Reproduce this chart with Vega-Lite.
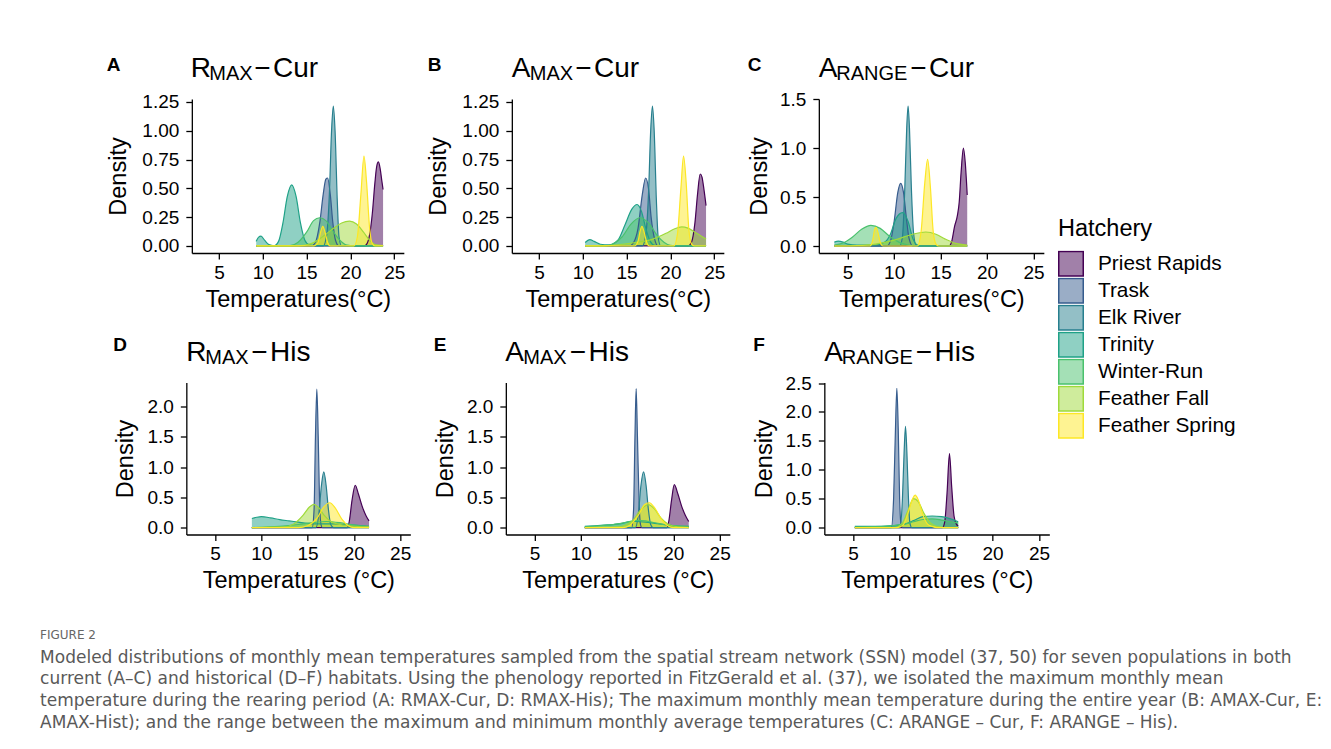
{
"$schema": "https://vega.github.io/schema/vega-lite/v6.json",
"background": "white",
"padding": {"left": 40, "top": 55, "right": 20, "bottom": 10},
"config": {
  "view": {"stroke": null},
  "axis": {"grid": false, "domainColor": "black", "domainWidth": 1.3, "tickColor": "black", "tickWidth": 1.3, "tickSize": 6, "labelFont": "Liberation Sans", "labelFontSize": 19, "labelColor": "black", "labelPadding": 4, "labelOverlap": false, "labelBound": false, "titleFont": "Liberation Sans", "titleFontSize": 23.5, "titleFontWeight": "normal", "titleColor": "black", "titlePadding": 5},
  "axisY": {"labelPadding": 7},
  "legend": {"titleFont": "Liberation Sans", "titleFontSize": 23.5, "titleFontWeight": "normal", "titleColor": "black", "labelFont": "Liberation Sans", "labelFontSize": 20.8, "labelColor": "black", "symbolType": "square", "symbolSize": 600, "symbolStrokeWidth": 1.5, "rowPadding": 0, "clipHeight": 26.7, "labelOffset": 14, "titlePadding": 10}
},
"title": {"text": "FIGURE 2", "subtitle": ["Modeled distributions of monthly mean temperatures sampled from the spatial stream network (SSN) model (37, 50) for seven populations in both", "current (A–C) and historical (D–F) habitats. Using the phenology reported in FitzGerald et al. (37), we isolated the maximum monthly mean", "temperature during the rearing period (A: RMAX-Cur, D: RMAX-His); The maximum monthly mean temperature during the entire year (B: AMAX-Cur, E:", "AMAX-Hist); and the range between the maximum and minimum monthly average temperatures (C: ARANGE – Cur, F: ARANGE – His)."], "orient": "bottom", "anchor": "start", "frame": "group", "dx": -145.9, "offset": 37.5, "font": "DejaVu Sans", "fontSize": 12, "fontWeight": "normal", "color": "#666666", "subtitleFont": "DejaVu Sans", "subtitleFontSize": 17, "subtitleColor": "#595959", "subtitleLineHeight": 21.8, "subtitlePadding": 8},
"datasets": {
"A": [
{"hatchery":"Priest Rapids","temp":9.25,"density":0},{"hatchery":"Priest Rapids","temp":21.6,"density":0},{"hatchery":"Priest Rapids","temp":21.9,"density":0.02},{"hatchery":"Priest Rapids","temp":22.2,"density":0.1},{"hatchery":"Priest Rapids","temp":22.5,"density":0.28},{"hatchery":"Priest Rapids","temp":22.8,"density":0.55},{"hatchery":"Priest Rapids","temp":23.0,"density":0.69},{"hatchery":"Priest Rapids","temp":23.2,"density":0.73},{"hatchery":"Priest Rapids","temp":23.4,"density":0.67},{"hatchery":"Priest Rapids","temp":23.6,"density":0.56},{"hatchery":"Priest Rapids","temp":23.73,"density":0.49},
{"hatchery":"Trask","temp":9.25,"density":0},{"hatchery":"Trask","temp":15.5,"density":0},{"hatchery":"Trask","temp":16.0,"density":0.03},{"hatchery":"Trask","temp":16.5,"density":0.2},{"hatchery":"Trask","temp":16.9,"density":0.45},{"hatchery":"Trask","temp":17.2,"density":0.58},{"hatchery":"Trask","temp":17.4,"density":0.59},{"hatchery":"Trask","temp":17.7,"density":0.45},{"hatchery":"Trask","temp":18.0,"density":0.2},{"hatchery":"Trask","temp":18.3,"density":0.05},{"hatchery":"Trask","temp":18.7,"density":0},{"hatchery":"Trask","temp":23.73,"density":0},
{"hatchery":"Elk River","temp":9.25,"density":0},{"hatchery":"Elk River","temp":16.9,"density":0},{"hatchery":"Elk River","temp":17.3,"density":0.1},{"hatchery":"Elk River","temp":17.6,"density":0.45},{"hatchery":"Elk River","temp":17.85,"density":1.0},{"hatchery":"Elk River","temp":18.05,"density":1.215},{"hatchery":"Elk River","temp":18.25,"density":1.0},{"hatchery":"Elk River","temp":18.5,"density":0.4},{"hatchery":"Elk River","temp":18.7,"density":0.08},{"hatchery":"Elk River","temp":19.0,"density":0},{"hatchery":"Elk River","temp":23.73,"density":0},
{"hatchery":"Trinity","temp":9.25,"density":0.04},{"hatchery":"Trinity","temp":9.5,"density":0.075},{"hatchery":"Trinity","temp":9.8,"density":0.085},{"hatchery":"Trinity","temp":10.2,"density":0.05},{"hatchery":"Trinity","temp":10.7,"density":0.012},{"hatchery":"Trinity","temp":11.3,"density":0.002},{"hatchery":"Trinity","temp":11.8,"density":0.04},{"hatchery":"Trinity","temp":12.3,"density":0.2},{"hatchery":"Trinity","temp":12.8,"density":0.43},{"hatchery":"Trinity","temp":13.3,"density":0.53},{"hatchery":"Trinity","temp":13.8,"density":0.43},{"hatchery":"Trinity","temp":14.3,"density":0.2},{"hatchery":"Trinity","temp":14.8,"density":0.05},{"hatchery":"Trinity","temp":15.3,"density":0.01},{"hatchery":"Trinity","temp":16.0,"density":0.003},{"hatchery":"Trinity","temp":23.73,"density":0},
{"hatchery":"Winter-Run","temp":9.25,"density":0},{"hatchery":"Winter-Run","temp":13.0,"density":0},{"hatchery":"Winter-Run","temp":14.0,"density":0.03},{"hatchery":"Winter-Run","temp":15.0,"density":0.12},{"hatchery":"Winter-Run","temp":15.8,"density":0.22},{"hatchery":"Winter-Run","temp":16.5,"density":0.245},{"hatchery":"Winter-Run","temp":17.2,"density":0.22},{"hatchery":"Winter-Run","temp":18.0,"density":0.13},{"hatchery":"Winter-Run","temp":18.8,"density":0.05},{"hatchery":"Winter-Run","temp":19.5,"density":0.01},{"hatchery":"Winter-Run","temp":20.5,"density":0},{"hatchery":"Winter-Run","temp":23.73,"density":0},
{"hatchery":"Feather Fall","temp":9.25,"density":0},{"hatchery":"Feather Fall","temp":14.0,"density":0},{"hatchery":"Feather Fall","temp":15.5,"density":0.02},{"hatchery":"Feather Fall","temp":17.0,"density":0.09},{"hatchery":"Feather Fall","temp":18.0,"density":0.15},{"hatchery":"Feather Fall","temp":19.0,"density":0.2},{"hatchery":"Feather Fall","temp":19.9,"density":0.215},{"hatchery":"Feather Fall","temp":20.7,"density":0.19},{"hatchery":"Feather Fall","temp":21.5,"density":0.12},{"hatchery":"Feather Fall","temp":22.2,"density":0.05},{"hatchery":"Feather Fall","temp":22.8,"density":0.012},{"hatchery":"Feather Fall","temp":23.73,"density":0.004},
{"hatchery":"Feather Spring","temp":9.25,"density":0},{"hatchery":"Feather Spring","temp":15.8,"density":0},{"hatchery":"Feather Spring","temp":16.3,"density":0.03},{"hatchery":"Feather Spring","temp":16.6,"density":0.12},{"hatchery":"Feather Spring","temp":16.85,"density":0.17},{"hatchery":"Feather Spring","temp":17.1,"density":0.12},{"hatchery":"Feather Spring","temp":17.4,"density":0.03},{"hatchery":"Feather Spring","temp":17.7,"density":0},{"hatchery":"Feather Spring","temp":20.4,"density":0},{"hatchery":"Feather Spring","temp":20.8,"density":0.08},{"hatchery":"Feather Spring","temp":21.2,"density":0.45},{"hatchery":"Feather Spring","temp":21.55,"density":0.78},{"hatchery":"Feather Spring","temp":21.85,"density":0.55},{"hatchery":"Feather Spring","temp":22.2,"density":0.15},{"hatchery":"Feather Spring","temp":22.5,"density":0.02},{"hatchery":"Feather Spring","temp":22.8,"density":0},{"hatchery":"Feather Spring","temp":23.73,"density":0}
],
"B": [
{"hatchery":"Priest Rapids","temp":10.27,"density":0},{"hatchery":"Priest Rapids","temp":22.0,"density":0},{"hatchery":"Priest Rapids","temp":22.4,"density":0.03},{"hatchery":"Priest Rapids","temp":22.8,"density":0.2},{"hatchery":"Priest Rapids","temp":23.1,"density":0.45},{"hatchery":"Priest Rapids","temp":23.4,"density":0.625},{"hatchery":"Priest Rapids","temp":23.6,"density":0.6},{"hatchery":"Priest Rapids","temp":23.85,"density":0.48},{"hatchery":"Priest Rapids","temp":24.07,"density":0.35},
{"hatchery":"Trask","temp":10.27,"density":0},{"hatchery":"Trask","temp":15.3,"density":0},{"hatchery":"Trask","temp":15.8,"density":0.03},{"hatchery":"Trask","temp":16.3,"density":0.15},{"hatchery":"Trask","temp":16.8,"density":0.45},{"hatchery":"Trask","temp":17.17,"density":0.59},{"hatchery":"Trask","temp":17.5,"density":0.5},{"hatchery":"Trask","temp":17.8,"density":0.25},{"hatchery":"Trask","temp":18.2,"density":0.06},{"hatchery":"Trask","temp":18.6,"density":0},{"hatchery":"Trask","temp":24.07,"density":0},
{"hatchery":"Elk River","temp":10.27,"density":0},{"hatchery":"Elk River","temp":16.8,"density":0},{"hatchery":"Elk River","temp":17.2,"density":0.1},{"hatchery":"Elk River","temp":17.5,"density":0.45},{"hatchery":"Elk River","temp":17.75,"density":1.0},{"hatchery":"Elk River","temp":17.95,"density":1.215},{"hatchery":"Elk River","temp":18.15,"density":1.0},{"hatchery":"Elk River","temp":18.4,"density":0.4},{"hatchery":"Elk River","temp":18.6,"density":0.08},{"hatchery":"Elk River","temp":18.9,"density":0},{"hatchery":"Elk River","temp":24.07,"density":0},
{"hatchery":"Trinity","temp":10.27,"density":0.03},{"hatchery":"Trinity","temp":10.8,"density":0.055},{"hatchery":"Trinity","temp":11.3,"density":0.04},{"hatchery":"Trinity","temp":12.0,"density":0.015},{"hatchery":"Trinity","temp":13.0,"density":0.01},{"hatchery":"Trinity","temp":14.0,"density":0.05},{"hatchery":"Trinity","temp":14.8,"density":0.18},{"hatchery":"Trinity","temp":15.6,"density":0.32},{"hatchery":"Trinity","temp":16.2,"density":0.36},{"hatchery":"Trinity","temp":16.7,"density":0.3},{"hatchery":"Trinity","temp":17.2,"density":0.15},{"hatchery":"Trinity","temp":17.7,"density":0.04},{"hatchery":"Trinity","temp":18.2,"density":0.005},{"hatchery":"Trinity","temp":19.0,"density":0},{"hatchery":"Trinity","temp":24.07,"density":0},
{"hatchery":"Winter-Run","temp":10.27,"density":0},{"hatchery":"Winter-Run","temp":12.5,"density":0},{"hatchery":"Winter-Run","temp":13.5,"density":0.02},{"hatchery":"Winter-Run","temp":14.5,"density":0.08},{"hatchery":"Winter-Run","temp":15.5,"density":0.19},{"hatchery":"Winter-Run","temp":16.5,"density":0.245},{"hatchery":"Winter-Run","temp":17.5,"density":0.2},{"hatchery":"Winter-Run","temp":18.5,"density":0.09},{"hatchery":"Winter-Run","temp":19.3,"density":0.03},{"hatchery":"Winter-Run","temp":20.0,"density":0.005},{"hatchery":"Winter-Run","temp":21.0,"density":0},{"hatchery":"Winter-Run","temp":24.07,"density":0},
{"hatchery":"Feather Fall","temp":10.27,"density":0},{"hatchery":"Feather Fall","temp":12.0,"density":0},{"hatchery":"Feather Fall","temp":14.0,"density":0.01},{"hatchery":"Feather Fall","temp":16.0,"density":0.03},{"hatchery":"Feather Fall","temp":18.0,"density":0.06},{"hatchery":"Feather Fall","temp":19.5,"density":0.11},{"hatchery":"Feather Fall","temp":20.5,"density":0.15},{"hatchery":"Feather Fall","temp":21.3,"density":0.165},{"hatchery":"Feather Fall","temp":22.0,"density":0.155},{"hatchery":"Feather Fall","temp":23.0,"density":0.11},{"hatchery":"Feather Fall","temp":24.07,"density":0.06},
{"hatchery":"Feather Spring","temp":10.27,"density":0},{"hatchery":"Feather Spring","temp":15.9,"density":0},{"hatchery":"Feather Spring","temp":16.3,"density":0.04},{"hatchery":"Feather Spring","temp":16.55,"density":0.13},{"hatchery":"Feather Spring","temp":16.75,"density":0.17},{"hatchery":"Feather Spring","temp":17.0,"density":0.12},{"hatchery":"Feather Spring","temp":17.3,"density":0.03},{"hatchery":"Feather Spring","temp":17.6,"density":0},{"hatchery":"Feather Spring","temp":20.4,"density":0},{"hatchery":"Feather Spring","temp":20.8,"density":0.1},{"hatchery":"Feather Spring","temp":21.2,"density":0.5},{"hatchery":"Feather Spring","temp":21.5,"density":0.78},{"hatchery":"Feather Spring","temp":21.8,"density":0.55},{"hatchery":"Feather Spring","temp":22.1,"density":0.15},{"hatchery":"Feather Spring","temp":22.4,"density":0.02},{"hatchery":"Feather Spring","temp":22.7,"density":0},{"hatchery":"Feather Spring","temp":24.07,"density":0}
],
"C": [
{"hatchery":"Priest Rapids","temp":3.57,"density":0},{"hatchery":"Priest Rapids","temp":15.9,"density":0},{"hatchery":"Priest Rapids","temp":16.2,"density":0.05},{"hatchery":"Priest Rapids","temp":16.5,"density":0.2},{"hatchery":"Priest Rapids","temp":16.8,"density":0.31},{"hatchery":"Priest Rapids","temp":17.0,"density":0.45},{"hatchery":"Priest Rapids","temp":17.2,"density":0.75},{"hatchery":"Priest Rapids","temp":17.45,"density":1.0},{"hatchery":"Priest Rapids","temp":17.65,"density":0.85},{"hatchery":"Priest Rapids","temp":17.86,"density":0.52},
{"hatchery":"Trask","temp":3.57,"density":0},{"hatchery":"Trask","temp":9.2,"density":0},{"hatchery":"Trask","temp":9.6,"density":0.05},{"hatchery":"Trask","temp":10.0,"density":0.25},{"hatchery":"Trask","temp":10.4,"density":0.55},{"hatchery":"Trask","temp":10.7,"density":0.64},{"hatchery":"Trask","temp":11.0,"density":0.55},{"hatchery":"Trask","temp":11.3,"density":0.3},{"hatchery":"Trask","temp":11.6,"density":0.08},{"hatchery":"Trask","temp":12.0,"density":0},{"hatchery":"Trask","temp":17.86,"density":0},
{"hatchery":"Elk River","temp":3.57,"density":0},{"hatchery":"Elk River","temp":10.6,"density":0},{"hatchery":"Elk River","temp":10.9,"density":0.1},{"hatchery":"Elk River","temp":11.15,"density":0.6},{"hatchery":"Elk River","temp":11.35,"density":1.2},{"hatchery":"Elk River","temp":11.5,"density":1.43},{"hatchery":"Elk River","temp":11.65,"density":1.2},{"hatchery":"Elk River","temp":11.85,"density":0.6},{"hatchery":"Elk River","temp":12.1,"density":0.12},{"hatchery":"Elk River","temp":12.4,"density":0},{"hatchery":"Elk River","temp":17.86,"density":0},
{"hatchery":"Trinity","temp":3.57,"density":0.04},{"hatchery":"Trinity","temp":4.0,"density":0.05},{"hatchery":"Trinity","temp":4.5,"density":0.04},{"hatchery":"Trinity","temp":5.0,"density":0.02},{"hatchery":"Trinity","temp":6.0,"density":0.01},{"hatchery":"Trinity","temp":8.0,"density":0.01},{"hatchery":"Trinity","temp":9.0,"density":0.04},{"hatchery":"Trinity","temp":9.6,"density":0.12},{"hatchery":"Trinity","temp":10.2,"density":0.28},{"hatchery":"Trinity","temp":10.9,"density":0.34},{"hatchery":"Trinity","temp":11.5,"density":0.25},{"hatchery":"Trinity","temp":12.0,"density":0.08},{"hatchery":"Trinity","temp":12.5,"density":0.01},{"hatchery":"Trinity","temp":13.0,"density":0},{"hatchery":"Trinity","temp":17.86,"density":0},
{"hatchery":"Winter-Run","temp":3.57,"density":0.01},{"hatchery":"Winter-Run","temp":4.5,"density":0.03},{"hatchery":"Winter-Run","temp":5.5,"density":0.09},{"hatchery":"Winter-Run","temp":6.5,"density":0.17},{"hatchery":"Winter-Run","temp":7.5,"density":0.21},{"hatchery":"Winter-Run","temp":8.5,"density":0.18},{"hatchery":"Winter-Run","temp":9.5,"density":0.1},{"hatchery":"Winter-Run","temp":10.5,"density":0.04},{"hatchery":"Winter-Run","temp":11.5,"density":0.01},{"hatchery":"Winter-Run","temp":12.5,"density":0},{"hatchery":"Winter-Run","temp":17.86,"density":0},
{"hatchery":"Feather Fall","temp":3.57,"density":0},{"hatchery":"Feather Fall","temp":6.0,"density":0.005},{"hatchery":"Feather Fall","temp":8.0,"density":0.02},{"hatchery":"Feather Fall","temp":10.0,"density":0.06},{"hatchery":"Feather Fall","temp":12.0,"density":0.12},{"hatchery":"Feather Fall","temp":13.4,"density":0.143},{"hatchery":"Feather Fall","temp":14.5,"density":0.12},{"hatchery":"Feather Fall","temp":15.5,"density":0.07},{"hatchery":"Feather Fall","temp":16.5,"density":0.03},{"hatchery":"Feather Fall","temp":17.86,"density":0.01},
{"hatchery":"Feather Spring","temp":3.57,"density":0},{"hatchery":"Feather Spring","temp":7.4,"density":0},{"hatchery":"Feather Spring","temp":7.7,"density":0.06},{"hatchery":"Feather Spring","temp":7.9,"density":0.17},{"hatchery":"Feather Spring","temp":8.05,"density":0.19},{"hatchery":"Feather Spring","temp":8.25,"density":0.14},{"hatchery":"Feather Spring","temp":8.5,"density":0.04},{"hatchery":"Feather Spring","temp":8.8,"density":0},{"hatchery":"Feather Spring","temp":12.5,"density":0},{"hatchery":"Feather Spring","temp":12.9,"density":0.15},{"hatchery":"Feather Spring","temp":13.3,"density":0.65},{"hatchery":"Feather Spring","temp":13.6,"density":0.886},{"hatchery":"Feather Spring","temp":13.9,"density":0.6},{"hatchery":"Feather Spring","temp":14.2,"density":0.15},{"hatchery":"Feather Spring","temp":14.5,"density":0.02},{"hatchery":"Feather Spring","temp":14.8,"density":0},{"hatchery":"Feather Spring","temp":17.86,"density":0}
],
"D": [
{"hatchery":"Priest Rapids","temp":8.98,"density":0},{"hatchery":"Priest Rapids","temp":19.3,"density":0},{"hatchery":"Priest Rapids","temp":19.5,"density":0.1},{"hatchery":"Priest Rapids","temp":19.8,"density":0.45},{"hatchery":"Priest Rapids","temp":20.15,"density":0.7},{"hatchery":"Priest Rapids","temp":20.5,"density":0.55},{"hatchery":"Priest Rapids","temp":20.9,"density":0.35},{"hatchery":"Priest Rapids","temp":21.3,"density":0.2},{"hatchery":"Priest Rapids","temp":21.64,"density":0.11},
{"hatchery":"Trask","temp":8.98,"density":0},{"hatchery":"Trask","temp":15.5,"density":0},{"hatchery":"Trask","temp":15.7,"density":0.3},{"hatchery":"Trask","temp":15.85,"density":1.5},{"hatchery":"Trask","temp":16.0,"density":2.29},{"hatchery":"Trask","temp":16.15,"density":1.5},{"hatchery":"Trask","temp":16.3,"density":0.4},{"hatchery":"Trask","temp":16.45,"density":0.05},{"hatchery":"Trask","temp":16.6,"density":0},{"hatchery":"Trask","temp":21.64,"density":0},
{"hatchery":"Elk River","temp":8.98,"density":0},{"hatchery":"Elk River","temp":15.9,"density":0},{"hatchery":"Elk River","temp":16.2,"density":0.2},{"hatchery":"Elk River","temp":16.5,"density":0.7},{"hatchery":"Elk River","temp":16.75,"density":0.92},{"hatchery":"Elk River","temp":17.0,"density":0.7},{"hatchery":"Elk River","temp":17.25,"density":0.3},{"hatchery":"Elk River","temp":17.5,"density":0.05},{"hatchery":"Elk River","temp":17.8,"density":0},{"hatchery":"Elk River","temp":21.64,"density":0},
{"hatchery":"Trinity","temp":8.98,"density":0.15},{"hatchery":"Trinity","temp":9.5,"density":0.17},{"hatchery":"Trinity","temp":10.0,"density":0.18},{"hatchery":"Trinity","temp":11.0,"density":0.16},{"hatchery":"Trinity","temp":12.0,"density":0.13},{"hatchery":"Trinity","temp":13.0,"density":0.11},{"hatchery":"Trinity","temp":14.0,"density":0.09},{"hatchery":"Trinity","temp":15.0,"density":0.07},{"hatchery":"Trinity","temp":16.0,"density":0.06},{"hatchery":"Trinity","temp":17.0,"density":0.06},{"hatchery":"Trinity","temp":18.0,"density":0.06},{"hatchery":"Trinity","temp":19.0,"density":0.05},{"hatchery":"Trinity","temp":20.0,"density":0.04},{"hatchery":"Trinity","temp":21.0,"density":0.03},{"hatchery":"Trinity","temp":21.64,"density":0.02},
{"hatchery":"Winter-Run","temp":8.98,"density":0},{"hatchery":"Winter-Run","temp":12.0,"density":0.02},{"hatchery":"Winter-Run","temp":14.0,"density":0.05},{"hatchery":"Winter-Run","temp":15.5,"density":0.08},{"hatchery":"Winter-Run","temp":17.0,"density":0.1},{"hatchery":"Winter-Run","temp":18.5,"density":0.08},{"hatchery":"Winter-Run","temp":20.0,"density":0.04},{"hatchery":"Winter-Run","temp":21.64,"density":0.02},
{"hatchery":"Feather Fall","temp":8.98,"density":0},{"hatchery":"Feather Fall","temp":12.5,"density":0.01},{"hatchery":"Feather Fall","temp":13.5,"density":0.06},{"hatchery":"Feather Fall","temp":14.5,"density":0.2},{"hatchery":"Feather Fall","temp":15.2,"density":0.34},{"hatchery":"Feather Fall","temp":15.67,"density":0.385},{"hatchery":"Feather Fall","temp":16.2,"density":0.33},{"hatchery":"Feather Fall","temp":16.8,"density":0.2},{"hatchery":"Feather Fall","temp":17.5,"density":0.1},{"hatchery":"Feather Fall","temp":18.5,"density":0.05},{"hatchery":"Feather Fall","temp":19.5,"density":0.03},{"hatchery":"Feather Fall","temp":21.64,"density":0.01},
{"hatchery":"Feather Spring","temp":8.98,"density":0},{"hatchery":"Feather Spring","temp":14.0,"density":0},{"hatchery":"Feather Spring","temp":15.0,"density":0.03},{"hatchery":"Feather Spring","temp":16.0,"density":0.15},{"hatchery":"Feather Spring","temp":16.8,"density":0.35},{"hatchery":"Feather Spring","temp":17.4,"density":0.41},{"hatchery":"Feather Spring","temp":18.0,"density":0.32},{"hatchery":"Feather Spring","temp":18.7,"density":0.14},{"hatchery":"Feather Spring","temp":19.4,"density":0.03},{"hatchery":"Feather Spring","temp":20.0,"density":0},{"hatchery":"Feather Spring","temp":21.64,"density":0}
],
"E": [
{"hatchery":"Priest Rapids","temp":10.43,"density":0},{"hatchery":"Priest Rapids","temp":19.3,"density":0},{"hatchery":"Priest Rapids","temp":19.5,"density":0.1},{"hatchery":"Priest Rapids","temp":19.8,"density":0.45},{"hatchery":"Priest Rapids","temp":20.1,"density":0.71},{"hatchery":"Priest Rapids","temp":20.5,"density":0.55},{"hatchery":"Priest Rapids","temp":20.9,"density":0.35},{"hatchery":"Priest Rapids","temp":21.3,"density":0.2},{"hatchery":"Priest Rapids","temp":21.66,"density":0.1},
{"hatchery":"Trask","temp":10.43,"density":0},{"hatchery":"Trask","temp":15.5,"density":0},{"hatchery":"Trask","temp":15.7,"density":0.3},{"hatchery":"Trask","temp":15.85,"density":1.5},{"hatchery":"Trask","temp":15.98,"density":2.3},{"hatchery":"Trask","temp":16.12,"density":1.5},{"hatchery":"Trask","temp":16.3,"density":0.4},{"hatchery":"Trask","temp":16.45,"density":0.05},{"hatchery":"Trask","temp":16.6,"density":0},{"hatchery":"Trask","temp":21.66,"density":0},
{"hatchery":"Elk River","temp":10.43,"density":0},{"hatchery":"Elk River","temp":15.9,"density":0},{"hatchery":"Elk River","temp":16.2,"density":0.2},{"hatchery":"Elk River","temp":16.5,"density":0.7},{"hatchery":"Elk River","temp":16.78,"density":0.92},{"hatchery":"Elk River","temp":17.05,"density":0.7},{"hatchery":"Elk River","temp":17.3,"density":0.3},{"hatchery":"Elk River","temp":17.55,"density":0.05},{"hatchery":"Elk River","temp":17.8,"density":0},{"hatchery":"Elk River","temp":21.66,"density":0},
{"hatchery":"Trinity","temp":10.43,"density":0.02},{"hatchery":"Trinity","temp":11.5,"density":0.03},{"hatchery":"Trinity","temp":12.5,"density":0.04},{"hatchery":"Trinity","temp":13.5,"density":0.05},{"hatchery":"Trinity","temp":14.5,"density":0.07},{"hatchery":"Trinity","temp":15.3,"density":0.1},{"hatchery":"Trinity","temp":16.0,"density":0.1},{"hatchery":"Trinity","temp":17.0,"density":0.09},{"hatchery":"Trinity","temp":18.0,"density":0.07},{"hatchery":"Trinity","temp":19.0,"density":0.05},{"hatchery":"Trinity","temp":20.0,"density":0.03},{"hatchery":"Trinity","temp":21.66,"density":0.02},
{"hatchery":"Winter-Run","temp":10.43,"density":0.01},{"hatchery":"Winter-Run","temp":12.0,"density":0.03},{"hatchery":"Winter-Run","temp":13.5,"density":0.05},{"hatchery":"Winter-Run","temp":15.0,"density":0.09},{"hatchery":"Winter-Run","temp":16.0,"density":0.12},{"hatchery":"Winter-Run","temp":17.0,"density":0.11},{"hatchery":"Winter-Run","temp":18.0,"density":0.08},{"hatchery":"Winter-Run","temp":19.5,"density":0.04},{"hatchery":"Winter-Run","temp":21.66,"density":0.02},
{"hatchery":"Feather Fall","temp":10.43,"density":0},{"hatchery":"Feather Fall","temp":14.0,"density":0.01},{"hatchery":"Feather Fall","temp":15.5,"density":0.1},{"hatchery":"Feather Fall","temp":16.5,"density":0.3},{"hatchery":"Feather Fall","temp":17.3,"density":0.38},{"hatchery":"Feather Fall","temp":18.0,"density":0.3},{"hatchery":"Feather Fall","temp":18.7,"density":0.15},{"hatchery":"Feather Fall","temp":19.5,"density":0.05},{"hatchery":"Feather Fall","temp":20.5,"density":0.01},{"hatchery":"Feather Fall","temp":21.66,"density":0},
{"hatchery":"Feather Spring","temp":10.43,"density":0},{"hatchery":"Feather Spring","temp":14.5,"density":0},{"hatchery":"Feather Spring","temp":15.3,"density":0.04},{"hatchery":"Feather Spring","temp":16.2,"density":0.2},{"hatchery":"Feather Spring","temp":16.9,"density":0.38},{"hatchery":"Feather Spring","temp":17.4,"density":0.41},{"hatchery":"Feather Spring","temp":18.0,"density":0.32},{"hatchery":"Feather Spring","temp":18.7,"density":0.14},{"hatchery":"Feather Spring","temp":19.4,"density":0.03},{"hatchery":"Feather Spring","temp":20.0,"density":0},{"hatchery":"Feather Spring","temp":21.66,"density":0}
],
"F": [
{"hatchery":"Priest Rapids","temp":5.18,"density":0},{"hatchery":"Priest Rapids","temp":14.6,"density":0},{"hatchery":"Priest Rapids","temp":14.85,"density":0.1},{"hatchery":"Priest Rapids","temp":15.1,"density":0.6},{"hatchery":"Priest Rapids","temp":15.36,"density":1.28},{"hatchery":"Priest Rapids","temp":15.6,"density":0.7},{"hatchery":"Priest Rapids","temp":15.85,"density":0.2},{"hatchery":"Priest Rapids","temp":16.1,"density":0.06},{"hatchery":"Priest Rapids","temp":16.3,"density":0.03},
{"hatchery":"Trask","temp":5.18,"density":0},{"hatchery":"Trask","temp":9.1,"density":0},{"hatchery":"Trask","temp":9.35,"density":0.5},{"hatchery":"Trask","temp":9.55,"density":1.7},{"hatchery":"Trask","temp":9.7,"density":2.41},{"hatchery":"Trask","temp":9.85,"density":1.7},{"hatchery":"Trask","temp":10.0,"density":0.5},{"hatchery":"Trask","temp":10.15,"density":0.05},{"hatchery":"Trask","temp":10.3,"density":0},{"hatchery":"Trask","temp":16.3,"density":0},
{"hatchery":"Elk River","temp":5.18,"density":0},{"hatchery":"Elk River","temp":10.05,"density":0},{"hatchery":"Elk River","temp":10.3,"density":0.5},{"hatchery":"Elk River","temp":10.48,"density":1.3},{"hatchery":"Elk River","temp":10.63,"density":1.75},{"hatchery":"Elk River","temp":10.78,"density":1.3},{"hatchery":"Elk River","temp":10.95,"density":0.5},{"hatchery":"Elk River","temp":11.1,"density":0.08},{"hatchery":"Elk River","temp":11.3,"density":0},{"hatchery":"Elk River","temp":16.3,"density":0},
{"hatchery":"Trinity","temp":5.18,"density":0.02},{"hatchery":"Trinity","temp":7.0,"density":0.02},{"hatchery":"Trinity","temp":9.0,"density":0.03},{"hatchery":"Trinity","temp":10.5,"density":0.06},{"hatchery":"Trinity","temp":11.5,"density":0.12},{"hatchery":"Trinity","temp":12.5,"density":0.19},{"hatchery":"Trinity","temp":13.5,"density":0.2},{"hatchery":"Trinity","temp":14.5,"density":0.19},{"hatchery":"Trinity","temp":15.3,"density":0.16},{"hatchery":"Trinity","temp":16.3,"density":0.1},
{"hatchery":"Winter-Run","temp":5.18,"density":0.01},{"hatchery":"Winter-Run","temp":7.0,"density":0.015},{"hatchery":"Winter-Run","temp":9.0,"density":0.03},{"hatchery":"Winter-Run","temp":10.5,"density":0.06},{"hatchery":"Winter-Run","temp":11.5,"density":0.1},{"hatchery":"Winter-Run","temp":12.5,"density":0.14},{"hatchery":"Winter-Run","temp":13.5,"density":0.15},{"hatchery":"Winter-Run","temp":14.5,"density":0.13},{"hatchery":"Winter-Run","temp":15.5,"density":0.1},{"hatchery":"Winter-Run","temp":16.3,"density":0.08},
{"hatchery":"Feather Fall","temp":5.18,"density":0},{"hatchery":"Feather Fall","temp":9.5,"density":0},{"hatchery":"Feather Fall","temp":10.3,"density":0.08},{"hatchery":"Feather Fall","temp":10.9,"density":0.3},{"hatchery":"Feather Fall","temp":11.5,"density":0.5},{"hatchery":"Feather Fall","temp":12.0,"density":0.45},{"hatchery":"Feather Fall","temp":12.6,"density":0.25},{"hatchery":"Feather Fall","temp":13.3,"density":0.08},{"hatchery":"Feather Fall","temp":14.0,"density":0.02},{"hatchery":"Feather Fall","temp":14.8,"density":0},{"hatchery":"Feather Fall","temp":16.3,"density":0},
{"hatchery":"Feather Spring","temp":5.18,"density":0},{"hatchery":"Feather Spring","temp":9.8,"density":0},{"hatchery":"Feather Spring","temp":10.4,"density":0.05},{"hatchery":"Feather Spring","temp":10.9,"density":0.25},{"hatchery":"Feather Spring","temp":11.4,"density":0.5},{"hatchery":"Feather Spring","temp":11.67,"density":0.56},{"hatchery":"Feather Spring","temp":12.0,"density":0.48},{"hatchery":"Feather Spring","temp":12.5,"density":0.22},{"hatchery":"Feather Spring","temp":13.0,"density":0.06},{"hatchery":"Feather Spring","temp":13.5,"density":0.02},{"hatchery":"Feather Spring","temp":14.0,"density":0},{"hatchery":"Feather Spring","temp":16.3,"density":0}
]
},
"center": true,
"spacing": 24.5,
"resolve": {"scale": {"x": "independent", "y": "independent", "color": "shared"}, "axis": {"x": "independent", "y": "independent"}, "legend": {"color": "shared"}},
"vconcat": [
{"hconcat": [
{"width": 212, "height": 154, "data": {"name": "A"}, "layer": [
 {"mark": {"type": "area", "interpolate": "monotone", "fillOpacity": 0.5}, "encoding": {
   "x": {"field": "temp", "type": "quantitative", "scale": {"domain": [1.9, 26.1], "nice": false, "zero": false}, "axis": {"values": [5, 10, 15, 20, 25], "title": "Temperatures(°C)", "labelOverlap": false}},
   "y": {"field": "density", "type": "quantitative", "stack": null, "scale": {"domain": [-0.061, 1.276], "nice": false, "zero": false}, "axis": {"values": [0, 0.25, 0.5, 0.75, 1, 1.25], "format": ".2f", "title": "Density", "titlePadding": 11, "labelOverlap": false}},
   "y2": {"datum": 0},
   "color": {"field": "hatchery", "type": "nominal", "title": "Hatchery", "scale": {"domain": ["Priest Rapids", "Trask", "Elk River", "Trinity", "Winter-Run", "Feather Fall", "Feather Spring"], "range": ["#440154", "#365C8D", "#277F8E", "#1FA187", "#4AC16D", "#9FDA3A", "#FDE725"]}, "legend": {"orient": "none", "legendX": 872, "legendY": 118, "encode": {"symbols": {"update": {"fillOpacity": {"value": 0.5}, "stroke": {"scale": "color", "field": "value"}, "strokeWidth": {"value": 1.5}, "opacity": {"value": 1}}}}}}
 }},
 {"mark": {"type": "line", "interpolate": "monotone", "strokeWidth": 1.2}, "encoding": {"x": {"field": "temp", "type": "quantitative", "axis": {"values": [5, 10, 15, 20, 25], "title": "Temperatures(°C)", "labelOverlap": false}}, "y": {"field": "density", "type": "quantitative", "axis": {"values": [0, 0.25, 0.5, 0.75, 1, 1.25], "format": ".2f", "title": "Density", "titlePadding": 11, "labelOverlap": false}}, "color": {"field": "hatchery", "type": "nominal"}}},
 {"data": {"values": [{"label": "A"}]}, "mark": {"type": "text", "align": "left", "baseline": "alphabetic", "font": "Liberation Sans", "fontSize": 19, "fontWeight": "bold", "color": "black", "dx": -85, "dy": -28, "clip": false}, "encoding": {"x": {"datum": 1.9, "type": "quantitative", "axis": {"values": [5, 10, 15, 20, 25], "title": "Temperatures(°C)", "labelOverlap": false}}, "y": {"datum": 1.276, "type": "quantitative", "axis": {"values": [0, 0.25, 0.5, 0.75, 1, 1.25], "format": ".2f", "title": "Density", "titlePadding": 11, "labelOverlap": false}}, "text": {"field": "label"}}},
 {"data": {"values": [{"label": "R"}]}, "mark": {"type": "text", "align": "left", "baseline": "alphabetic", "font": "Liberation Sans", "fontSize": 28, "color": "black", "dx": -1, "dy": -22, "clip": false}, "encoding": {"x": {"datum": 1.9, "type": "quantitative", "axis": {"values": [5, 10, 15, 20, 25], "title": "Temperatures(°C)", "labelOverlap": false}}, "y": {"datum": 1.276, "type": "quantitative", "axis": {"values": [0, 0.25, 0.5, 0.75, 1, 1.25], "format": ".2f", "title": "Density", "titlePadding": 11, "labelOverlap": false}}, "text": {"field": "label"}}},
 {"data": {"values": [{"label": "MAX"}]}, "mark": {"type": "text", "align": "left", "baseline": "alphabetic", "font": "Liberation Sans", "fontSize": 20, "color": "black", "dx": 17.5, "dy": -18.7, "clip": false}, "encoding": {"x": {"datum": 1.9, "type": "quantitative", "axis": {"values": [5, 10, 15, 20, 25], "title": "Temperatures(°C)", "labelOverlap": false}}, "y": {"datum": 1.276, "type": "quantitative", "axis": {"values": [0, 0.25, 0.5, 0.75, 1, 1.25], "format": ".2f", "title": "Density", "titlePadding": 11, "labelOverlap": false}}, "text": {"field": "label"}}},
 {"data": {"values": [{"label": "−\u200aCur"}]}, "mark": {"type": "text", "align": "left", "baseline": "alphabetic", "font": "Liberation Sans", "fontSize": 28, "color": "black", "dx": 62.5, "dy": -22, "clip": false}, "encoding": {"x": {"datum": 1.9, "type": "quantitative", "axis": {"values": [5, 10, 15, 20, 25], "title": "Temperatures(°C)", "labelOverlap": false}}, "y": {"datum": 1.276, "type": "quantitative", "axis": {"values": [0, 0.25, 0.5, 0.75, 1, 1.25], "format": ".2f", "title": "Density", "titlePadding": 11, "labelOverlap": false}}, "text": {"field": "label"}}}
]},
{"width": 212, "height": 154, "data": {"name": "B"}, "layer": [
 {"mark": {"type": "area", "interpolate": "monotone", "fillOpacity": 0.5}, "encoding": {
   "x": {"field": "temp", "type": "quantitative", "scale": {"domain": [1.9, 26.1], "nice": false, "zero": false}, "axis": {"values": [5, 10, 15, 20, 25], "title": "Temperatures(°C)", "labelOverlap": false}},
   "y": {"field": "density", "type": "quantitative", "stack": null, "scale": {"domain": [-0.061, 1.276], "nice": false, "zero": false}, "axis": {"values": [0, 0.25, 0.5, 0.75, 1, 1.25], "format": ".2f", "title": "Density", "titlePadding": 11, "labelOverlap": false}},
   "y2": {"datum": 0},
   "color": {"field": "hatchery", "type": "nominal"}
 }},
 {"mark": {"type": "line", "interpolate": "monotone", "strokeWidth": 1.2}, "encoding": {"x": {"field": "temp", "type": "quantitative", "axis": {"values": [5, 10, 15, 20, 25], "title": "Temperatures(°C)", "labelOverlap": false}}, "y": {"field": "density", "type": "quantitative", "axis": {"values": [0, 0.25, 0.5, 0.75, 1, 1.25], "format": ".2f", "title": "Density", "titlePadding": 11, "labelOverlap": false}}, "color": {"field": "hatchery", "type": "nominal"}}},
 {"data": {"values": [{"label": "B"}]}, "mark": {"type": "text", "align": "left", "baseline": "alphabetic", "font": "Liberation Sans", "fontSize": 19, "fontWeight": "bold", "color": "black", "dx": -84, "dy": -28, "clip": false}, "encoding": {"x": {"datum": 1.9, "type": "quantitative", "axis": {"values": [5, 10, 15, 20, 25], "title": "Temperatures(°C)", "labelOverlap": false}}, "y": {"datum": 1.276, "type": "quantitative", "axis": {"values": [0, 0.25, 0.5, 0.75, 1, 1.25], "format": ".2f", "title": "Density", "titlePadding": 11, "labelOverlap": false}}, "text": {"field": "label"}}},
 {"data": {"values": [{"label": "A"}]}, "mark": {"type": "text", "align": "left", "baseline": "alphabetic", "font": "Liberation Sans", "fontSize": 28, "color": "black", "dx": 0, "dy": -22, "clip": false}, "encoding": {"x": {"datum": 1.9, "type": "quantitative", "axis": {"values": [5, 10, 15, 20, 25], "title": "Temperatures(°C)", "labelOverlap": false}}, "y": {"datum": 1.276, "type": "quantitative", "axis": {"values": [0, 0.25, 0.5, 0.75, 1, 1.25], "format": ".2f", "title": "Density", "titlePadding": 11, "labelOverlap": false}}, "text": {"field": "label"}}},
 {"data": {"values": [{"label": "MAX"}]}, "mark": {"type": "text", "align": "left", "baseline": "alphabetic", "font": "Liberation Sans", "fontSize": 20, "color": "black", "dx": 18, "dy": -18.7, "clip": false}, "encoding": {"x": {"datum": 1.9, "type": "quantitative", "axis": {"values": [5, 10, 15, 20, 25], "title": "Temperatures(°C)", "labelOverlap": false}}, "y": {"datum": 1.276, "type": "quantitative", "axis": {"values": [0, 0.25, 0.5, 0.75, 1, 1.25], "format": ".2f", "title": "Density", "titlePadding": 11, "labelOverlap": false}}, "text": {"field": "label"}}},
 {"data": {"values": [{"label": "−\u200aCur"}]}, "mark": {"type": "text", "align": "left", "baseline": "alphabetic", "font": "Liberation Sans", "fontSize": 28, "color": "black", "dx": 63.5, "dy": -22, "clip": false}, "encoding": {"x": {"datum": 1.9, "type": "quantitative", "axis": {"values": [5, 10, 15, 20, 25], "title": "Temperatures(°C)", "labelOverlap": false}}, "y": {"datum": 1.276, "type": "quantitative", "axis": {"values": [0, 0.25, 0.5, 0.75, 1, 1.25], "format": ".2f", "title": "Density", "titlePadding": 11, "labelOverlap": false}}, "text": {"field": "label"}}}
]},
{"width": 225, "height": 154, "data": {"name": "C"}, "layer": [
 {"mark": {"type": "area", "interpolate": "monotone", "fillOpacity": 0.5}, "encoding": {
   "x": {"field": "temp", "type": "quantitative", "scale": {"domain": [1.9, 26.1], "nice": false, "zero": false}, "axis": {"values": [5, 10, 15, 20, 25], "title": "Temperatures(°C)", "labelOverlap": false}},
   "y": {"field": "density", "type": "quantitative", "stack": null, "scale": {"domain": [-0.0715, 1.5015], "nice": false, "zero": false}, "axis": {"values": [0, 0.5, 1, 1.5], "format": ".1f", "title": "Density", "titlePadding": 8, "labelOverlap": false}},
   "y2": {"datum": 0},
   "color": {"field": "hatchery", "type": "nominal"}
 }},
 {"mark": {"type": "line", "interpolate": "monotone", "strokeWidth": 1.2}, "encoding": {"x": {"field": "temp", "type": "quantitative", "axis": {"values": [5, 10, 15, 20, 25], "title": "Temperatures(°C)", "labelOverlap": false}}, "y": {"field": "density", "type": "quantitative", "axis": {"values": [0, 0.5, 1, 1.5], "format": ".1f", "title": "Density", "titlePadding": 8, "labelOverlap": false}}, "color": {"field": "hatchery", "type": "nominal"}}},
 {"data": {"values": [{"label": "C"}]}, "mark": {"type": "text", "align": "left", "baseline": "alphabetic", "font": "Liberation Sans", "fontSize": 19, "fontWeight": "bold", "color": "black", "dx": -71, "dy": -28, "clip": false}, "encoding": {"x": {"datum": 1.9, "type": "quantitative", "axis": {"values": [5, 10, 15, 20, 25], "title": "Temperatures(°C)", "labelOverlap": false}}, "y": {"datum": 1.5015, "type": "quantitative", "axis": {"values": [0, 0.5, 1, 1.5], "format": ".1f", "title": "Density", "titlePadding": 8, "labelOverlap": false}}, "text": {"field": "label"}}},
 {"data": {"values": [{"label": "A"}]}, "mark": {"type": "text", "align": "left", "baseline": "alphabetic", "font": "Liberation Sans", "fontSize": 28, "color": "black", "dx": 0, "dy": -22, "clip": false}, "encoding": {"x": {"datum": 1.9, "type": "quantitative", "axis": {"values": [5, 10, 15, 20, 25], "title": "Temperatures(°C)", "labelOverlap": false}}, "y": {"datum": 1.5015, "type": "quantitative", "axis": {"values": [0, 0.5, 1, 1.5], "format": ".1f", "title": "Density", "titlePadding": 8, "labelOverlap": false}}, "text": {"field": "label"}}},
 {"data": {"values": [{"label": "RANGE"}]}, "mark": {"type": "text", "align": "left", "baseline": "alphabetic", "font": "Liberation Sans", "fontSize": 20, "color": "black", "dx": 17.5, "dy": -18.7, "clip": false}, "encoding": {"x": {"datum": 1.9, "type": "quantitative", "axis": {"values": [5, 10, 15, 20, 25], "title": "Temperatures(°C)", "labelOverlap": false}}, "y": {"datum": 1.5015, "type": "quantitative", "axis": {"values": [0, 0.5, 1, 1.5], "format": ".1f", "title": "Density", "titlePadding": 8, "labelOverlap": false}}, "text": {"field": "label"}}},
 {"data": {"values": [{"label": "−\u200aCur"}]}, "mark": {"type": "text", "align": "left", "baseline": "alphabetic", "font": "Liberation Sans", "fontSize": 28, "color": "black", "dx": 91.5, "dy": -22, "clip": false}, "encoding": {"x": {"datum": 1.9, "type": "quantitative", "axis": {"values": [5, 10, 15, 20, 25], "title": "Temperatures(°C)", "labelOverlap": false}}, "y": {"datum": 1.5015, "type": "quantitative", "axis": {"values": [0, 0.5, 1, 1.5], "format": ".1f", "title": "Density", "titlePadding": 8, "labelOverlap": false}}, "text": {"field": "label"}}}
]}
], "spacing": 22, "resolve": {"scale": {"x": "independent", "y": "independent", "color": "shared"}, "axis": {"x": "independent", "y": "independent"}, "legend": {"color": "shared"}}},
{"hconcat": [
{"width": 224, "height": 152, "data": {"name": "D"}, "layer": [
 {"mark": {"type": "area", "interpolate": "monotone", "fillOpacity": 0.5}, "encoding": {
   "x": {"field": "temp", "type": "quantitative", "scale": {"domain": [1.9, 26.1], "nice": false, "zero": false}, "axis": {"values": [5, 10, 15, 20, 25], "title": "Temperatures (°C)", "labelOverlap": false}},
   "y": {"field": "density", "type": "quantitative", "stack": null, "scale": {"domain": [-0.115, 2.4], "nice": false, "zero": false}, "axis": {"values": [0, 0.5, 1, 1.5, 2], "format": ".1f", "title": "Density", "titlePadding": 9, "labelOverlap": false}},
   "y2": {"datum": 0},
   "color": {"field": "hatchery", "type": "nominal"}
 }},
 {"mark": {"type": "line", "interpolate": "monotone", "strokeWidth": 1.2}, "encoding": {"x": {"field": "temp", "type": "quantitative", "axis": {"values": [5, 10, 15, 20, 25], "title": "Temperatures (°C)", "labelOverlap": false}}, "y": {"field": "density", "type": "quantitative", "axis": {"values": [0, 0.5, 1, 1.5, 2], "format": ".1f", "title": "Density", "titlePadding": 9, "labelOverlap": false}}, "color": {"field": "hatchery", "type": "nominal"}}},
 {"data": {"values": [{"label": "D"}]}, "mark": {"type": "text", "align": "left", "baseline": "alphabetic", "font": "Liberation Sans", "fontSize": 19, "fontWeight": "bold", "color": "black", "dx": -73, "dy": -32, "clip": false}, "encoding": {"x": {"datum": 1.9, "type": "quantitative", "axis": {"values": [5, 10, 15, 20, 25], "title": "Temperatures (°C)", "labelOverlap": false}}, "y": {"datum": 2.4, "type": "quantitative", "axis": {"values": [0, 0.5, 1, 1.5, 2], "format": ".1f", "title": "Density", "titlePadding": 9, "labelOverlap": false}}, "text": {"field": "label"}}},
 {"data": {"values": [{"label": "R"}]}, "mark": {"type": "text", "align": "left", "baseline": "alphabetic", "font": "Liberation Sans", "fontSize": 28, "color": "black", "dx": 0, "dy": -22, "clip": false}, "encoding": {"x": {"datum": 1.9, "type": "quantitative", "axis": {"values": [5, 10, 15, 20, 25], "title": "Temperatures (°C)", "labelOverlap": false}}, "y": {"datum": 2.4, "type": "quantitative", "axis": {"values": [0, 0.5, 1, 1.5, 2], "format": ".1f", "title": "Density", "titlePadding": 9, "labelOverlap": false}}, "text": {"field": "label"}}},
 {"data": {"values": [{"label": "MAX"}]}, "mark": {"type": "text", "align": "left", "baseline": "alphabetic", "font": "Liberation Sans", "fontSize": 20, "color": "black", "dx": 19, "dy": -18.7, "clip": false}, "encoding": {"x": {"datum": 1.9, "type": "quantitative", "axis": {"values": [5, 10, 15, 20, 25], "title": "Temperatures (°C)", "labelOverlap": false}}, "y": {"datum": 2.4, "type": "quantitative", "axis": {"values": [0, 0.5, 1, 1.5, 2], "format": ".1f", "title": "Density", "titlePadding": 9, "labelOverlap": false}}, "text": {"field": "label"}}},
 {"data": {"values": [{"label": "−\u200aHis"}]}, "mark": {"type": "text", "align": "left", "baseline": "alphabetic", "font": "Liberation Sans", "fontSize": 28, "color": "black", "dx": 65, "dy": -22, "clip": false}, "encoding": {"x": {"datum": 1.9, "type": "quantitative", "axis": {"values": [5, 10, 15, 20, 25], "title": "Temperatures (°C)", "labelOverlap": false}}, "y": {"datum": 2.4, "type": "quantitative", "axis": {"values": [0, 0.5, 1, 1.5, 2], "format": ".1f", "title": "Density", "titlePadding": 9, "labelOverlap": false}}, "text": {"field": "label"}}}
]},
{"width": 224, "height": 152, "data": {"name": "E"}, "layer": [
 {"mark": {"type": "area", "interpolate": "monotone", "fillOpacity": 0.5}, "encoding": {
   "x": {"field": "temp", "type": "quantitative", "scale": {"domain": [1.9, 26.1], "nice": false, "zero": false}, "axis": {"values": [5, 10, 15, 20, 25], "title": "Temperatures (°C)", "labelOverlap": false}},
   "y": {"field": "density", "type": "quantitative", "stack": null, "scale": {"domain": [-0.115, 2.4], "nice": false, "zero": false}, "axis": {"values": [0, 0.5, 1, 1.5, 2], "format": ".1f", "title": "Density", "titlePadding": 9, "labelOverlap": false}},
   "y2": {"datum": 0},
   "color": {"field": "hatchery", "type": "nominal"}
 }},
 {"mark": {"type": "line", "interpolate": "monotone", "strokeWidth": 1.2}, "encoding": {"x": {"field": "temp", "type": "quantitative", "axis": {"values": [5, 10, 15, 20, 25], "title": "Temperatures (°C)", "labelOverlap": false}}, "y": {"field": "density", "type": "quantitative", "axis": {"values": [0, 0.5, 1, 1.5, 2], "format": ".1f", "title": "Density", "titlePadding": 9, "labelOverlap": false}}, "color": {"field": "hatchery", "type": "nominal"}}},
 {"data": {"values": [{"label": "E"}]}, "mark": {"type": "text", "align": "left", "baseline": "alphabetic", "font": "Liberation Sans", "fontSize": 19, "fontWeight": "bold", "color": "black", "dx": -72, "dy": -32, "clip": false}, "encoding": {"x": {"datum": 1.9, "type": "quantitative", "axis": {"values": [5, 10, 15, 20, 25], "title": "Temperatures (°C)", "labelOverlap": false}}, "y": {"datum": 2.4, "type": "quantitative", "axis": {"values": [0, 0.5, 1, 1.5, 2], "format": ".1f", "title": "Density", "titlePadding": 9, "labelOverlap": false}}, "text": {"field": "label"}}},
 {"data": {"values": [{"label": "A"}]}, "mark": {"type": "text", "align": "left", "baseline": "alphabetic", "font": "Liberation Sans", "fontSize": 28, "color": "black", "dx": -0.5, "dy": -22, "clip": false}, "encoding": {"x": {"datum": 1.9, "type": "quantitative", "axis": {"values": [5, 10, 15, 20, 25], "title": "Temperatures (°C)", "labelOverlap": false}}, "y": {"datum": 2.4, "type": "quantitative", "axis": {"values": [0, 0.5, 1, 1.5, 2], "format": ".1f", "title": "Density", "titlePadding": 9, "labelOverlap": false}}, "text": {"field": "label"}}},
 {"data": {"values": [{"label": "MAX"}]}, "mark": {"type": "text", "align": "left", "baseline": "alphabetic", "font": "Liberation Sans", "fontSize": 20, "color": "black", "dx": 17.5, "dy": -18.7, "clip": false}, "encoding": {"x": {"datum": 1.9, "type": "quantitative", "axis": {"values": [5, 10, 15, 20, 25], "title": "Temperatures (°C)", "labelOverlap": false}}, "y": {"datum": 2.4, "type": "quantitative", "axis": {"values": [0, 0.5, 1, 1.5, 2], "format": ".1f", "title": "Density", "titlePadding": 9, "labelOverlap": false}}, "text": {"field": "label"}}},
 {"data": {"values": [{"label": "−\u200aHis"}]}, "mark": {"type": "text", "align": "left", "baseline": "alphabetic", "font": "Liberation Sans", "fontSize": 28, "color": "black", "dx": 64, "dy": -22, "clip": false}, "encoding": {"x": {"datum": 1.9, "type": "quantitative", "axis": {"values": [5, 10, 15, 20, 25], "title": "Temperatures (°C)", "labelOverlap": false}}, "y": {"datum": 2.4, "type": "quantitative", "axis": {"values": [0, 0.5, 1, 1.5, 2], "format": ".1f", "title": "Density", "titlePadding": 9, "labelOverlap": false}}, "text": {"field": "label"}}}
]},
{"width": 225, "height": 152, "data": {"name": "F"}, "layer": [
 {"mark": {"type": "area", "interpolate": "monotone", "fillOpacity": 0.5}, "encoding": {
   "x": {"field": "temp", "type": "quantitative", "scale": {"domain": [1.9, 26.1], "nice": false, "zero": false}, "axis": {"values": [5, 10, 15, 20, 25], "title": "Temperatures (°C)", "labelOverlap": false}},
   "y": {"field": "density", "type": "quantitative", "stack": null, "scale": {"domain": [-0.12, 2.51], "nice": false, "zero": false}, "axis": {"values": [0, 0.5, 1, 1.5, 2, 2.5], "format": ".1f", "title": "Density", "titlePadding": 8, "labelOverlap": false}},
   "y2": {"datum": 0},
   "color": {"field": "hatchery", "type": "nominal"}
 }},
 {"mark": {"type": "line", "interpolate": "monotone", "strokeWidth": 1.2}, "encoding": {"x": {"field": "temp", "type": "quantitative", "axis": {"values": [5, 10, 15, 20, 25], "title": "Temperatures (°C)", "labelOverlap": false}}, "y": {"field": "density", "type": "quantitative", "axis": {"values": [0, 0.5, 1, 1.5, 2, 2.5], "format": ".1f", "title": "Density", "titlePadding": 8, "labelOverlap": false}}, "color": {"field": "hatchery", "type": "nominal"}}},
 {"data": {"values": [{"label": "F"}]}, "mark": {"type": "text", "align": "left", "baseline": "alphabetic", "font": "Liberation Sans", "fontSize": 19, "fontWeight": "bold", "color": "black", "dx": -71, "dy": -32, "clip": false}, "encoding": {"x": {"datum": 1.9, "type": "quantitative", "axis": {"values": [5, 10, 15, 20, 25], "title": "Temperatures (°C)", "labelOverlap": false}}, "y": {"datum": 2.51, "type": "quantitative", "axis": {"values": [0, 0.5, 1, 1.5, 2, 2.5], "format": ".1f", "title": "Density", "titlePadding": 8, "labelOverlap": false}}, "text": {"field": "label"}}},
 {"data": {"values": [{"label": "A"}]}, "mark": {"type": "text", "align": "left", "baseline": "alphabetic", "font": "Liberation Sans", "fontSize": 28, "color": "black", "dx": 0, "dy": -22, "clip": false}, "encoding": {"x": {"datum": 1.9, "type": "quantitative", "axis": {"values": [5, 10, 15, 20, 25], "title": "Temperatures (°C)", "labelOverlap": false}}, "y": {"datum": 2.51, "type": "quantitative", "axis": {"values": [0, 0.5, 1, 1.5, 2, 2.5], "format": ".1f", "title": "Density", "titlePadding": 8, "labelOverlap": false}}, "text": {"field": "label"}}},
 {"data": {"values": [{"label": "RANGE"}]}, "mark": {"type": "text", "align": "left", "baseline": "alphabetic", "font": "Liberation Sans", "fontSize": 20, "color": "black", "dx": 17.5, "dy": -18.7, "clip": false}, "encoding": {"x": {"datum": 1.9, "type": "quantitative", "axis": {"values": [5, 10, 15, 20, 25], "title": "Temperatures (°C)", "labelOverlap": false}}, "y": {"datum": 2.51, "type": "quantitative", "axis": {"values": [0, 0.5, 1, 1.5, 2, 2.5], "format": ".1f", "title": "Density", "titlePadding": 8, "labelOverlap": false}}, "text": {"field": "label"}}},
 {"data": {"values": [{"label": "−\u200aHis"}]}, "mark": {"type": "text", "align": "left", "baseline": "alphabetic", "font": "Liberation Sans", "fontSize": 28, "color": "black", "dx": 91.5, "dy": -22, "clip": false}, "encoding": {"x": {"datum": 1.9, "type": "quantitative", "axis": {"values": [5, 10, 15, 20, 25], "title": "Temperatures (°C)", "labelOverlap": false}}, "y": {"datum": 2.51, "type": "quantitative", "axis": {"values": [0, 0.5, 1, 1.5, 2, 2.5], "format": ".1f", "title": "Density", "titlePadding": 8, "labelOverlap": false}}, "text": {"field": "label"}}}
]}
], "spacing": 21.5, "resolve": {"scale": {"x": "independent", "y": "independent", "color": "shared"}, "axis": {"x": "independent", "y": "independent"}, "legend": {"color": "shared"}}}
]
}
